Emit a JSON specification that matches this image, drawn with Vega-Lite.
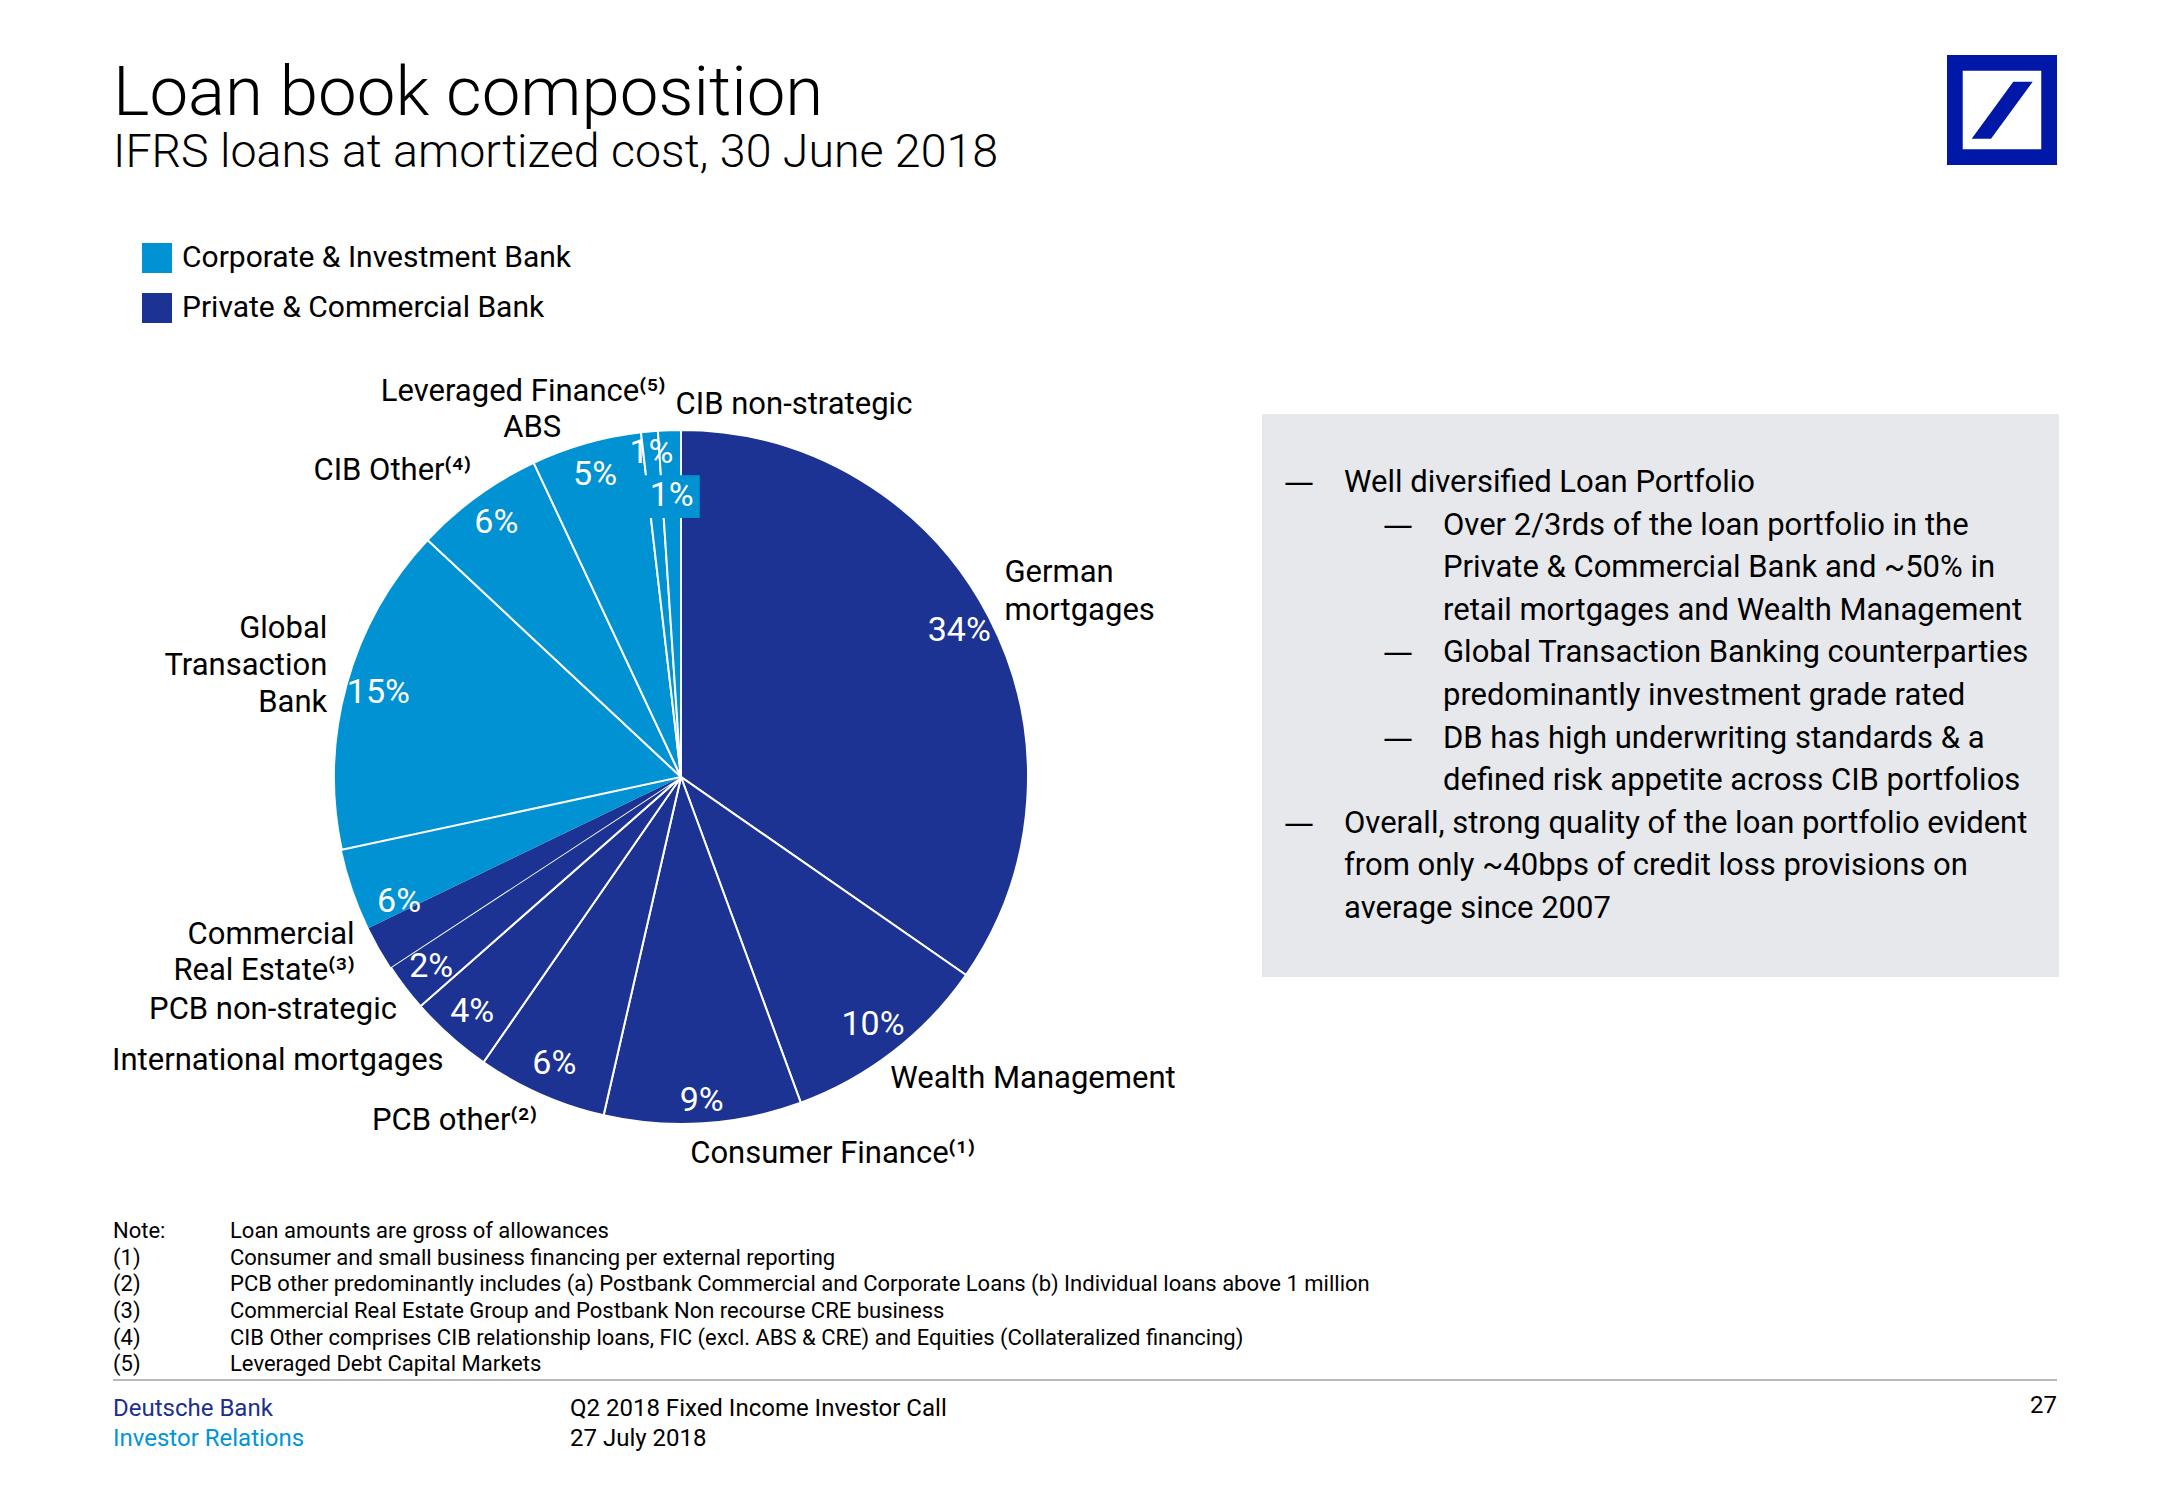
{
  "$schema": "https://vega.github.io/schema/vega-lite/v6.json",
  "background": "#ffffff",
  "padding": {"left": 112, "top": 55, "right": 108, "bottom": 40},
  "autosize": {"type": "pad"},
  "config": {"view": {"stroke": null}, "font": "Roboto"},
  "datasets": {
    "heading": [
      {"line": 0, "kind": "title", "text": "Loan book composition"},
      {"line": 1, "kind": "subtitle", "text": "IFRS loans at amortized cost, 30 June 2018"}
    ],
    "slices": [
      {"idx": 1, "slice": "German mortgages", "segment": "Private & Commercial Bank", "share": 34.67, "pct": "34%", "label": "German\nmortgages"},
      {"idx": 2, "slice": "Wealth Management", "segment": "Private & Commercial Bank", "share": 9.73, "pct": "10%", "label": "Wealth Management"},
      {"idx": 3, "slice": "Consumer Finance", "segment": "Private & Commercial Bank", "share": 9.19, "pct": "9%", "label": "Consumer Finance⁽¹⁾"},
      {"idx": 4, "slice": "PCB other", "segment": "Private & Commercial Bank", "share": 6.06, "pct": "6%", "label": "PCB other⁽²⁾"},
      {"idx": 5, "slice": "International mortgages", "segment": "Private & Commercial Bank", "share": 3.88, "pct": "4%", "label": "International mortgages"},
      {"idx": 6, "slice": "PCB non-strategic", "segment": "Private & Commercial Bank", "share": 2.25, "pct": "2%", "label": "PCB non-strategic"},
      {"idx": 7, "slice": "Commercial Real Estate", "segment": "Private & Commercial Bank", "share": 2.07, "pct": "", "label": "Commercial\nReal Estate⁽³⁾"},
      {"idx": 8, "slice": "Commercial Real Estate", "segment": "Corporate & Investment Bank", "share": 3.8, "pct": "6%", "label": ""},
      {"idx": 9, "slice": "Global Transaction Bank", "segment": "Corporate & Investment Bank", "share": 15.33, "pct": "15%", "label": "Global\nTransaction\nBank"},
      {"idx": 10, "slice": "CIB Other", "segment": "Corporate & Investment Bank", "share": 6.06, "pct": "6%", "label": "CIB Other⁽⁴⁾"},
      {"idx": 11, "slice": "Leveraged Finance", "segment": "Corporate & Investment Bank", "share": 5.14, "pct": "5%", "label": "Leveraged Finance⁽⁵⁾"},
      {"idx": 12, "slice": "ABS", "segment": "Corporate & Investment Bank", "share": 0.78, "pct": "1%", "label": "ABS"},
      {"idx": 13, "slice": "CIB non-strategic", "segment": "Corporate & Investment Bank", "share": 1.06, "pct": "1%", "label": "CIB non-strategic"}
    ],
    "bullets": [
      {"line": 0, "indent": 0, "bullet": true, "text": "Well diversified Loan Portfolio"},
      {"line": 1, "indent": 1, "bullet": true, "text": "Over 2/3rds of the loan portfolio in the"},
      {"line": 2, "indent": 1, "bullet": false, "text": "Private & Commercial Bank and ~50% in"},
      {"line": 3, "indent": 1, "bullet": false, "text": "retail mortgages and Wealth Management"},
      {"line": 4, "indent": 1, "bullet": true, "text": "Global Transaction Banking counterparties"},
      {"line": 5, "indent": 1, "bullet": false, "text": "predominantly investment grade rated"},
      {"line": 6, "indent": 1, "bullet": true, "text": "DB has high underwriting standards & a"},
      {"line": 7, "indent": 1, "bullet": false, "text": "defined risk appetite across CIB portfolios"},
      {"line": 8, "indent": 0, "bullet": true, "text": "Overall, strong quality of the loan portfolio evident"},
      {"line": 9, "indent": 0, "bullet": false, "text": "from only ~40bps of credit loss provisions on"},
      {"line": 10, "indent": 0, "bullet": false, "text": "average since 2007"}
    ],
    "notes": [
      {"line": 0, "col": "ref", "t": "Note:"},
      {"line": 0, "col": "note", "t": "Loan amounts are gross of allowances"},
      {"line": 1, "col": "ref", "t": "(1)"},
      {"line": 1, "col": "note", "t": "Consumer and small business financing per external reporting"},
      {"line": 2, "col": "ref", "t": "(2)"},
      {"line": 2, "col": "note", "t": "PCB other predominantly includes (a) Postbank Commercial and Corporate Loans (b) Individual loans above 1 million"},
      {"line": 3, "col": "ref", "t": "(3)"},
      {"line": 3, "col": "note", "t": "Commercial Real Estate Group and Postbank Non recourse CRE business"},
      {"line": 4, "col": "ref", "t": "(4)"},
      {"line": 4, "col": "note", "t": "CIB Other comprises CIB relationship loans, FIC (excl. ABS & CRE) and Equities (Collateralized financing)"},
      {"line": 5, "col": "ref", "t": "(5)"},
      {"line": 5, "col": "note", "t": "Leveraged Debt Capital Markets"}
    ],
    "footer": [
      {"line": 0, "col": "org", "t": "Deutsche Bank"},
      {"line": 1, "col": "org", "t": "Investor Relations"},
      {"line": 0, "col": "event", "t": "Q2 2018 Fixed Income Investor Call"},
      {"line": 1, "col": "event", "t": "27 July 2018"},
      {"line": 0, "col": "page", "t": "27"}
    ]
  },
  "spacing": 0,
  "bounds": "full",
  "resolve": {"scale": {"color": "shared"}, "legend": {"color": "shared"}},
  "vconcat": [
    {
      "spacing": 0,
      "bounds": "flush",
      "hconcat": [
        {
          "width": 1834,
          "height": 285,
          "data": {"name": "heading"},
          "mark": {"type": "text", "align": "left", "baseline": "alphabetic", "fontWeight": 300, "color": "#000000"},
          "encoding": {
            "x": {"datum": 0, "type": "quantitative", "scale": {"domain": [0, 1]}, "axis": null},
            "y": {"field": "line", "type": "quantitative", "scale": {"domain": [0, 1], "range": [60, 112]}, "axis": null},
            "text": {"field": "text", "type": "nominal"},
            "size": {"condition": {"test": "datum.kind === 'title'", "value": 69}, "value": 46.5}
          }
        },
        {
          "width": 110,
          "height": 110,
          "data": {"values": [{"brand": "Deutsche Bank"}]},
          "mark": {
            "type": "point",
            "shape": "M-1,-1H1V1H-1Z M-0.714,-0.714V0.714H0.714V-0.714Z M-0.551,0.522L-0.2,0.522L0.558,-0.515L0.205,-0.515Z",
            "size": 12100,
            "filled": true,
            "color": "#0018a8",
            "opacity": 1,
            "strokeWidth": 0
          },
          "encoding": {}
        }
      ]
    },
    {
      "spacing": 13,
      "bounds": "flush",
      "hconcat": [
        {
          "width": 1136,
          "height": 874,
          "data": {"name": "slices"},
          "encoding": {
            "theta": {"field": "share", "type": "quantitative", "stack": true},
            "order": {"field": "idx", "type": "quantitative", "sort": "ascending"}
          },
          "layer": [
            {
              "mark": {"type": "arc", "outerRadius": 347, "stroke": "#ffffff"},
              "encoding": {
                "color": {
                  "field": "segment",
                  "type": "nominal",
                  "scale": {"domain": ["Corporate & Investment Bank", "Private & Commercial Bank"], "range": ["#0092d2", "#1c3394"]},
                  "legend": {
                    "title": null,
                    "orient": "none",
                    "legendX": 29,
                    "legendY": 188,
                    "direction": "vertical",
                    "symbolType": "square",
                    "symbolSize": 900,
                    "symbolStrokeWidth": 0,
                    "symbolOpacity": 1,
                    "labelFontSize": 30,
                    "labelColor": "#000000",
                    "labelOffset": 10,
                    "labelLimit": 800,
                    "rowPadding": 20,
                    "padding": 0
                  }
                },
                "strokeWidth": {"condition": {"test": "datum.slice === 'Commercial Real Estate'", "value": 0}, "value": 2}
              }
            },
            {
              "mark": {"type": "text", "radius": 314, "fontSize": 34, "color": "#ffffff", "align": "center", "baseline": "middle"},
              "encoding": {"text": {"condition": {"test": "datum.idx !== 13 && datum.idx !== 12 && datum.idx !== 8 && datum.idx !== 3", "field": "pct", "type": "nominal"}, "value": ""}}
            },
            {
              "mark": {"type": "text", "radius": 325, "fontSize": 34, "color": "#ffffff", "align": "center", "baseline": "middle"},
              "encoding": {"text": {"condition": {"test": "datum.idx === 3 || datum.idx === 12", "field": "pct", "type": "nominal"}, "value": ""}}
            },
            {
              "mark": {"type": "text", "radius": 314, "fontSize": 34, "color": "#ffffff", "align": "center", "baseline": "middle", "dx": 15, "dy": 23},
              "encoding": {"text": {"condition": {"test": "datum.idx === 8", "field": "pct", "type": "nominal"}, "value": ""}}
            },
            {
              "mark": {"type": "text", "radius": 279, "font": "DejaVu Sans", "fontSize": 36, "color": "#0092d2", "align": "center", "baseline": "middle"},
              "encoding": {"text": {"condition": {"test": "datum.idx === 13", "value": "██"}, "value": ""}}
            },
            {
              "mark": {"type": "text", "radius": 281, "fontSize": 34, "color": "#ffffff", "align": "center", "baseline": "middle"},
              "encoding": {"text": {"condition": {"test": "datum.idx === 13", "field": "pct", "type": "nominal"}, "value": ""}}
            },
            {
              "mark": {"type": "text", "radius": 365, "fontSize": 31, "color": "#000000", "align": "left", "baseline": "middle", "dx": -14, "dy": 13},
              "encoding": {"text": {"condition": {"test": "datum.idx === 2 || datum.idx === 3", "field": "label", "type": "nominal"}, "value": ""}}
            },
            {
              "mark": {"type": "text", "radius": 365, "fontSize": 31, "color": "#000000", "align": "left", "baseline": "middle", "lineBreak": "\n", "lineHeight": 38, "dy": -35},
              "encoding": {"text": {"condition": {"test": "datum.idx === 1", "field": "label", "type": "nominal"}, "value": ""}}
            },
            {
              "mark": {"type": "text", "radius": 357, "fontSize": 31, "color": "#000000", "align": "right", "baseline": "middle", "dy": 17},
              "encoding": {"text": {"condition": {"test": "datum.idx === 4 || datum.idx === 5 || datum.idx === 6", "field": "label", "type": "nominal"}, "value": ""}}
            },
            {
              "mark": {"type": "text", "radius": 357, "fontSize": 31, "color": "#000000", "align": "right", "baseline": "middle", "dy": -17},
              "encoding": {"text": {"condition": {"test": "datum.idx === 10", "field": "label", "type": "nominal"}, "value": ""}}
            },
            {
              "mark": {"type": "text", "radius": 375, "fontSize": 31, "color": "#000000", "align": "right", "baseline": "middle", "lineBreak": "\n", "lineHeight": 36, "dy": -27},
              "encoding": {"text": {"condition": {"test": "datum.idx === 7", "field": "label", "type": "nominal"}, "value": ""}}
            },
            {
              "mark": {"type": "text", "radius": 367, "fontSize": 31, "color": "#000000", "align": "right", "baseline": "middle", "lineBreak": "\n", "lineHeight": 37, "dy": -50},
              "encoding": {"text": {"condition": {"test": "datum.idx === 9", "field": "label", "type": "nominal"}, "value": ""}}
            },
            {
              "mark": {"type": "text", "radius": 400, "fontSize": 31, "color": "#000000", "align": "right", "baseline": "middle", "dx": 94},
              "encoding": {"text": {"condition": {"test": "datum.idx === 11", "field": "label", "type": "nominal"}, "value": ""}}
            },
            {
              "mark": {"type": "text", "radius": 350, "fontSize": 31, "color": "#000000", "align": "center", "baseline": "middle", "dx": -117},
              "encoding": {"text": {"condition": {"test": "datum.idx === 12", "field": "label", "type": "nominal"}, "value": ""}}
            },
            {
              "mark": {"type": "text", "radius": 372, "fontSize": 31, "color": "#000000", "align": "left", "baseline": "middle", "dx": 7},
              "encoding": {"text": {"condition": {"test": "datum.idx === 13", "field": "label", "type": "nominal"}, "value": ""}}
            }
          ]
        },
        {
          "spacing": 0,
          "bounds": "flush",
          "vconcat": [
            {
              "width": 797,
              "height": 74,
              "data": {"values": [{"spacer": true}]},
              "mark": {"type": "text"},
              "encoding": {"text": {"value": ""}}
            },
            {
              "width": 797,
              "height": 563,
              "view": {"fill": "#e6e8ec", "stroke": null},
              "data": {"name": "bullets"},
              "encoding": {
                "x": {"field": "indent", "type": "quantitative", "scale": {"domain": [0, 1], "range": [82, 181]}, "axis": null},
                "y": {"field": "line", "type": "quantitative", "scale": {"domain": [0, 10], "range": [69, 495]}, "axis": null}
              },
              "layer": [
                {
                  "mark": {"type": "text", "align": "left", "baseline": "middle", "fontSize": 31, "color": "#000000"},
                  "encoding": {"text": {"field": "text", "type": "nominal"}}
                },
                {
                  "transform": [{"filter": "datum.bullet"}],
                  "mark": {"type": "text", "align": "left", "baseline": "middle", "font": "DejaVu Sans", "fontSize": 30, "color": "#000000", "dx": -60},
                  "encoding": {"text": {"value": "—"}}
                }
              ]
            }
          ]
        }
      ]
    },
    {
      "width": 1944,
      "height": 165,
      "data": {"name": "notes"},
      "mark": {"type": "text", "align": "left", "baseline": "middle", "fontSize": 22, "color": "#000000"},
      "encoding": {
        "x": {"field": "col", "type": "nominal", "scale": {"type": "point", "domain": ["ref", "note"], "range": [0, 117], "padding": 0}, "axis": null},
        "y": {"field": "line", "type": "quantitative", "scale": {"domain": [0, 5], "range": [16.8, 150.3]}, "axis": null},
        "text": {"field": "t", "type": "nominal"}
      }
    },
    {
      "width": 1944,
      "height": 81,
      "layer": [
        {
          "data": {"values": [{"edge": 1}]},
          "mark": {"type": "rule", "color": "#9aa4ad", "strokeWidth": 1.5},
          "encoding": {"y": {"field": "edge", "type": "quantitative", "scale": {"domain": [0, 1]}, "axis": null}}
        },
        {
          "data": {"name": "footer"},
          "transform": [{"filter": "datum.col !== 'page'"}],
          "mark": {"type": "text", "align": "left", "baseline": "middle", "fontSize": 24, "letterSpacing": 0.6},
          "encoding": {
            "x": {"field": "col", "type": "nominal", "scale": {"type": "point", "domain": ["org", "event"], "range": [0, 457], "padding": 0}, "axis": null},
            "y": {"field": "line", "type": "quantitative", "scale": {"domain": [0, 1], "range": [28.6, 59]}, "axis": null},
            "text": {"field": "t", "type": "nominal"},
            "color": {"condition": [{"test": "datum.t === 'Deutsche Bank'", "value": "#1c2f8e"}, {"test": "datum.t === 'Investor Relations'", "value": "#0096d6"}], "value": "#000000"}
          }
        },
        {
          "data": {"name": "footer"},
          "transform": [{"filter": "datum.col === 'page'"}],
          "mark": {"type": "text", "align": "right", "baseline": "middle", "fontSize": 24, "color": "#000000"},
          "encoding": {
            "x": {"datum": 1, "type": "quantitative", "scale": {"domain": [0, 1]}, "axis": null},
            "y": {"field": "line", "type": "quantitative", "scale": {"domain": [0, 1], "range": [26, 56]}, "axis": null},
            "text": {"field": "t", "type": "nominal"}
          }
        }
      ],
      "resolve": {"scale": {"x": "independent", "y": "independent"}}
    }
  ]
}
